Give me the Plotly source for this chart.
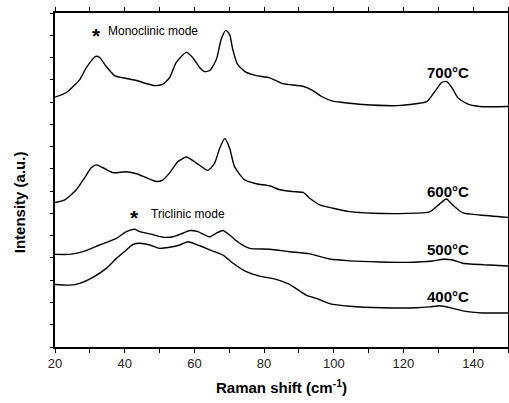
import plotly.graph_objects as go

# Raman spectra of the calcined powders, offset vertically (arbitrary units)
x700 = [20, 23.3, 27.1, 29.0, 31.7, 32.8, 34.7, 37.1, 40.5, 43.4, 46.2, 48.6, 50.8, 52.9, 54.8,
        57.7, 59.5, 61.5, 62.9, 64.4, 66.3, 67.7, 69.0, 70.1, 71.0, 72.4, 74.9, 77.8, 81.6, 85.3,
        91.1, 93.9, 96.5, 99.7, 102.6, 108.3, 118.0, 121.8, 126.7, 129.0, 131.0, 132.4, 133.9,
        135.6, 138.2, 141.9, 150]
y700 = [11.22, 11.43, 12.01, 12.55, 13.05, 13.0, 12.6, 12.19, 12.06, 11.97, 11.83, 11.74, 11.79,
        12.1, 12.78, 13.23, 13.0, 12.55, 12.37, 12.42, 12.91, 13.82, 14.22, 14.04, 13.37, 12.69,
        12.33, 12.19, 12.09, 11.83, 11.71, 11.53, 11.25, 11.04, 10.98, 10.89, 10.84, 10.89, 11.02,
        11.47, 11.88, 11.92, 11.65, 11.2, 10.93, 10.8, 10.8]

x600 = [20, 22.8, 26.1, 28.5, 30.4, 31.9, 33.8, 36.6, 40.5, 43.4, 46.2, 49.1, 51.0, 52.9, 55.3,
        57.7, 60.6, 63.9, 65.8, 67.3, 68.7, 70.1, 71.5, 74.4, 77.8, 81.6, 84.5, 88.3, 91.2, 93.1,
        96.0, 99.8, 104.6, 111.2, 120.8, 127.5, 130.4, 132.3, 134.4, 137.1, 141.9, 150]
y600 = [6.49, 6.61, 7.06, 7.6, 8.05, 8.18, 8.05, 7.83, 7.87, 7.78, 7.6, 7.43, 7.51, 7.82, 8.33,
        8.53, 8.26, 7.93, 8.26, 8.94, 9.36, 8.94, 8.11, 7.51, 7.33, 7.24, 7.06, 6.98, 6.94, 6.68,
        6.38, 6.23, 6.08, 6.01, 6.0, 6.07, 6.43, 6.65, 6.34, 6.02, 5.93, 5.82]

x500 = [20, 24.2, 28.0, 32.8, 37.6, 40.5, 42.9, 44.3, 47.2, 51.0, 53.9, 56.7, 58.7, 61.0, 64.4,
        66.3, 68.2, 70.1, 73.0, 75.9, 81.6, 87.3, 93.1, 98.8, 104.6, 113.2, 120.8, 128.4, 131.3,
        134.1, 137.0, 144.7, 150]
y500 = [4.16, 4.16, 4.28, 4.58, 4.88, 5.18, 5.29, 5.18, 5.08, 4.93, 4.95, 5.11, 5.23, 5.18, 4.95,
        5.11, 5.23, 5.03, 4.66, 4.43, 4.39, 4.28, 4.18, 3.95, 3.87, 3.82, 3.8, 3.86, 3.94, 3.91,
        3.76, 3.68, 3.64]

x400 = [20, 24.2, 27.1, 30.9, 34.7, 37.6, 40.5, 42.4, 44.3, 47.2, 50.0, 52.9, 55.8, 58.2, 61.0,
        64.4, 68.2, 71.1, 74.9, 78.7, 83.5, 87.3, 92.1, 95.0, 98.8, 104.6, 114.0, 123.7, 127.5,
        130.4, 133.3, 137.1, 142.8, 150]
y400 = [2.81, 2.78, 2.86, 3.13, 3.53, 3.98, 4.36, 4.61, 4.66, 4.58, 4.43, 4.48, 4.58, 4.73, 4.58,
        4.36, 4.13, 3.76, 3.38, 3.18, 3.04, 2.81, 2.33, 2.18, 1.95, 1.83, 1.76, 1.76, 1.8, 1.85,
        1.77, 1.62, 1.53, 1.53]

series = [("700°C", x700, y700, 12.34),
          ("600°C", x600, y600, 6.98),
          ("500°C", x500, y500, 4.39),
          ("400°C", x400, y400, 2.28)]
label_x = 132.8

FONT = "Liberation Sans, Arial, sans-serif"

fig = go.Figure()
for name, xs, ys, _ in series:
    fig.add_trace(go.Scatter(x=xs, y=ys, mode="lines", name=name,
                             line=dict(color="black", width=1.4, shape="spline", smoothing=0.6),
                             showlegend=False))

annotations = []
for name, _, _, ly in series:
    annotations.append(dict(x=label_x, y=ly, text=f"<b>{name}</b>", showarrow=False,
                            xanchor="center", yanchor="middle",
                            font=dict(family=FONT, size=15, color="black")))

# mode markers
for sx, tx, ty, txt in [(31.9, 34.5, 14.19, "Monoclinic mode"),
                        (42.9, 46.9, 5.98, "Triclinic mode")]:
    annotations.append(dict(x=sx, y=ty, text="<b>*</b>", showarrow=False, xanchor="center",
                            yanchor="middle", yshift=-4,
                            font=dict(family=FONT, size=21, color="black")))
    annotations.append(dict(x=tx, y=ty, text=txt, showarrow=False, xanchor="left",
                            yanchor="middle", font=dict(family=FONT, size=12, color="black")))

# y-axis title
annotations.append(dict(xref="paper", yref="paper", x=-0.079, y=0.434,
                        text="<b>Intensity (a.u.)</b>", textangle=-90, showarrow=False,
                        xanchor="center", yanchor="middle",
                        font=dict(family=FONT, size=15, color="black")))

fig.update_layout(
    width=509, height=403,
    margin=dict(l=55, r=1, t=13, b=56, autoexpand=False),
    plot_bgcolor="white", paper_bgcolor="white",
    annotations=annotations,
    font=dict(family=FONT, color="black"),
)
fig.update_xaxes(range=[20, 150], dtick=20, tick0=20, showgrid=False, zeroline=False,
                 showline=True, linecolor="black", linewidth=1.5, mirror="ticks",
                 ticks="outside", ticklen=4, tickwidth=1.2, tickcolor="black", automargin=False,
                 minor=dict(dtick=10, tick0=20, ticks="outside", ticklen=4, tickcolor="black",
                            showgrid=False),
                 tickfont=dict(family=FONT, size=13, color="#222"),
                 title=dict(text="<b>Raman shift (cm<sup>-1</sup>)</b>", standoff=12,
                            font=dict(family=FONT, size=15, color="black")))
fig.update_yaxes(range=[0, 15], dtick=1, tick0=0, showgrid=False, zeroline=False,
                 showline=True, linecolor="black", linewidth=1.5, mirror="ticks",
                 ticks="outside", ticklen=3, tickwidth=1.2, tickcolor="black", automargin=False,
                 showticklabels=False)

fig.write_html("out.html")
